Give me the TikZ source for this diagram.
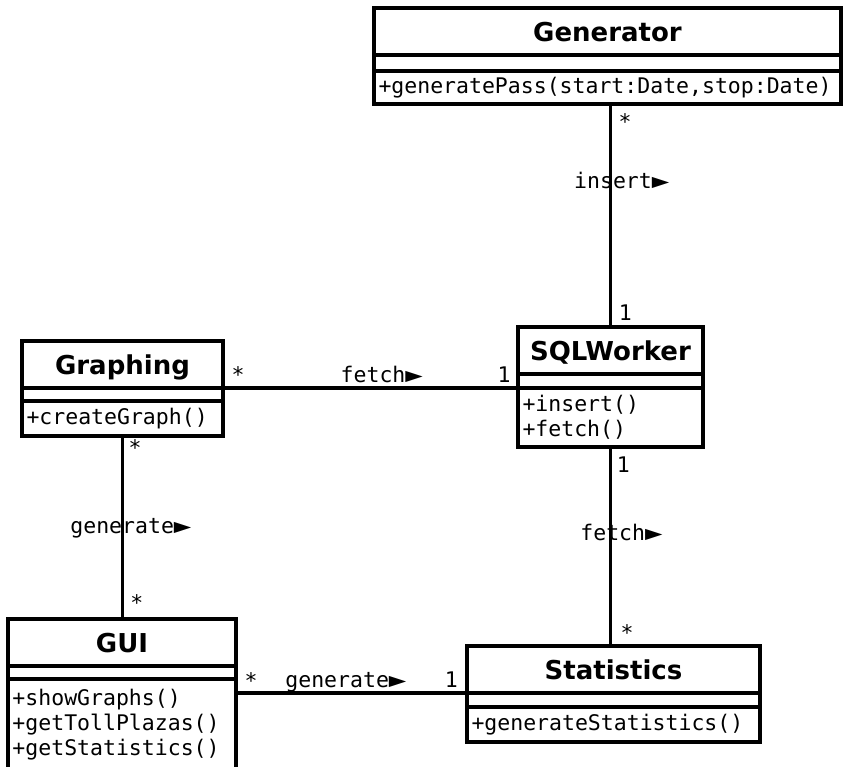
\documentclass[tikz,border=0pt]{standalone}
\usepackage{fontspec}
\setmainfont{DejaVu Sans}
\newfontfamily\umlmono{DejaVu Sans Mono}
\usetikzlibrary{positioning}

% direction mark of an association name
\newcommand\assocdir{\raisebox{-2.4pt}{\fontsize{29}{30}\selectfont ►}}

\tikzset{
  classtitle/.style={draw, line width=3.3pt, outer sep=0pt, inner sep=0pt,
    minimum height=47pt, text height=19pt, text depth=0pt,
    font=\fontsize{26}{30}\selectfont\bfseries, anchor=north west},
  classattr/.style={draw, line width=3.3pt, outer sep=0pt, inner sep=0pt,
    minimum height=14pt},
  classops/.style={draw, line width=3.3pt, outer sep=0pt, inner xsep=4.5pt,
    inner ysep=0pt, align=left, font=\umlmono\fontsize{21.5}{25}\selectfont},
  assoc/.style={line width=3.3pt},
  lbl/.style={font=\umlmono\fontsize{21.5}{25}\selectfont, inner sep=0pt,
    anchor=base west}
}

\begin{document}
\begin{tikzpicture}[x=1pt, y=-1pt]
  \clip (0,0) rectangle (843,766);

  % classes
  \node[classtitle, minimum width=467pt] (generator) at (374,8) {Generator};
  \node[classattr, minimum width=467pt, minimum height=16pt, below=0pt of generator] (generator-attr) {};
  \node[classops, text width=458pt, minimum height=33pt, below=0pt of generator-attr] (generator-ops)
    {+generatePass(start:Date,stop:Date)};

  \node[classtitle, minimum width=201pt] (graphing) at (22,341) {Graphing};
  \node[classattr, minimum width=201pt, minimum height=13pt, below=0pt of graphing] (graphing-attr) {};
  \node[classops, text width=192pt, minimum height=35pt, below=0pt of graphing-attr] (graphing-ops)
    {+createGraph()};

  \node[classtitle, minimum width=185pt] (sqlworker) at (518,327) {SQLWorker};
  \node[classattr, minimum width=185pt, below=0pt of sqlworker] (sqlworker-attr) {};
  \node[classops, text width=176pt, minimum height=59pt, below=0pt of sqlworker-attr] (sqlworker-ops)
    {+insert()\\+fetch()};

  \node[classtitle, minimum width=228pt] (gui) at (8,619) {GUI};
  \node[classattr, minimum width=228pt, minimum height=13pt, below=0pt of gui] (gui-attr) {};
  \node[classops, text width=219pt, minimum height=92pt, below=0pt of gui-attr] (gui-ops)
    {+showGraphs()\\+getTollPlazas()\\+getStatistics()};

  \node[classtitle, minimum width=293pt] (statistics) at (467,646) {Statistics};
  \node[classattr, minimum width=293pt, below=0pt of statistics] (statistics-attr) {};
  \node[classops, text width=284pt, minimum height=35pt, below=0pt of statistics-attr] (statistics-ops)
    {+generateStatistics()};

  % associations
  \draw[assoc] (generator-ops.south -| sqlworker.north) -- (sqlworker.north);
  \draw[assoc] (graphing.south east) -- (graphing.south east -| sqlworker.west);
  \draw[assoc] (graphing-ops.south) -- (graphing-ops.south |- gui.north);
  \draw[assoc] (sqlworker-ops.south) -- (sqlworker-ops.south |- statistics.north);
  \draw[assoc] (statistics.south west -| gui-ops.east) -- (statistics.south west);

  % names and multiplicities
  \node[lbl] (insert-lbl) at (574,188) {insert\assocdir};
  \node[lbl] (gen-mult) at (618.4,129) {*};
  \node[lbl] (sql-mult-top) at (618.7,320) {1};

  \node[lbl] (fetch-lbl-a) at (340.5,382) {fetch\assocdir};
  \node[lbl] (graph-mult-right) at (231.4,382) {*};
  \node[lbl] (sql-mult-left) at (497.4,382) {1};

  \node[lbl] (generate-lbl-a) at (70.2,533) {generate\assocdir};
  \node[lbl] (graph-mult-bottom) at (128.4,455.6) {*};
  \node[lbl] (gui-mult-top) at (130.1,610) {*};

  \node[lbl] (fetch-lbl-b) at (580.2,540) {fetch\assocdir};
  \node[lbl] (sql-mult-bottom) at (616.7,472) {1};
  \node[lbl] (stat-mult-top) at (620.4,640) {*};

  \node[lbl] (generate-lbl-b) at (285.2,687) {generate\assocdir};
  \node[lbl] (gui-mult-right) at (244.4,688) {*};
  \node[lbl] (stat-mult-left) at (444.7,687) {1};
\end{tikzpicture}
\end{document}
